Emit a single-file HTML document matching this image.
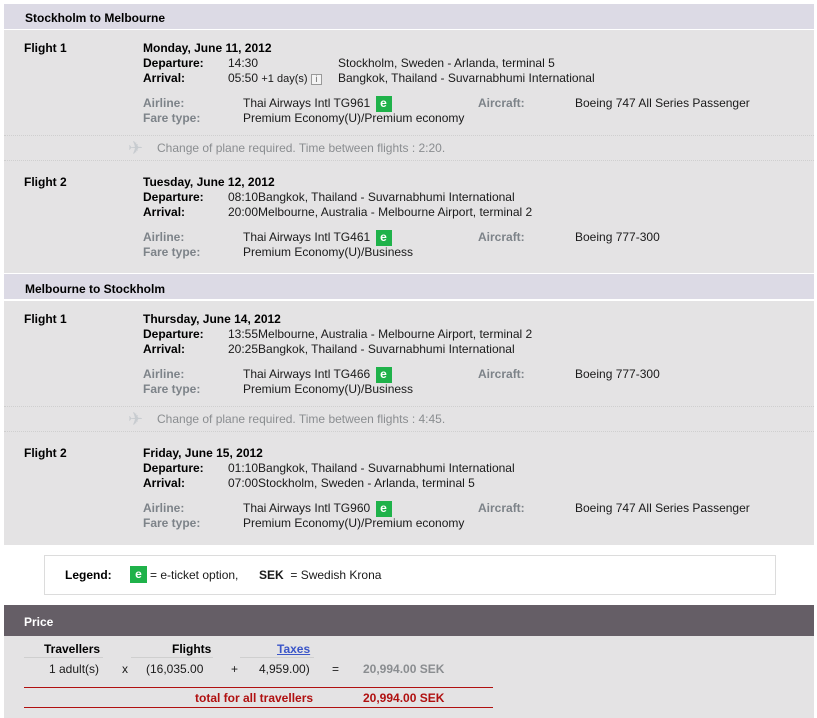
<!DOCTYPE html>
<html><head><meta charset="utf-8"><style>
*{margin:0;padding:0;box-sizing:border-box}
body{width:817px;height:718px;background:#fff;font-family:"Liberation Sans",Arial,sans-serif;font-size:12px;color:#1a1a1a;position:relative;overflow:hidden}
.a{position:absolute;white-space:nowrap;line-height:14px;margin-top:1px}
.b{font-weight:bold;color:#000}
.g{font-weight:bold;color:#7d8389}
.hd{position:absolute;left:4px;width:810px;background:#dcdae5;border-bottom:1px solid #fff}
.bd{position:absolute;left:4px;width:810px;background:#e4e3e4}
.sep{position:absolute;left:4px;width:810px;border-top:1px dotted #cfcfcf}
.e{display:inline-block;background:#1fb24a;color:#fff;font-weight:bold;width:16px;height:16px;line-height:15px;text-align:center;vertical-align:middle;margin-left:2px}
.ch{color:#8a8d90}
.pl{color:#c8ccd0;font-size:18px}
</style></head><body>
<div class="hd" style="top:4px;height:26px"></div>
<div class="a b" style="left:25px;top:10px">Stockholm to Melbourne</div>
<div class="bd" style="top:30px;height:243px"></div>
<div class="hd" style="top:274px;height:26px"></div>
<div class="a b" style="left:25px;top:281px">Melbourne to Stockholm</div>
<div class="bd" style="top:301px;height:244px"></div>

<div class="a b" style="left:24px;top:40px">Flight 1</div>
<div class="a b" style="left:143px;top:40px">Monday, June 11, 2012</div>
<div class="a b" style="left:143px;top:55px">Departure:</div>
<div class="a" style="left:228px;top:55px">14:30</div>
<div class="a" style="left:338px;top:55px">Stockholm, Sweden - Arlanda, terminal 5</div>
<div class="a b" style="left:143px;top:70px">Arrival:</div>
<div class="a" style="left:228px;top:70px">05:50 <span style="font-size:11px">+1 day(s)</span> <span style="display:inline-block;width:11px;height:11px;border:1px solid #999;font-size:9px;line-height:9px;text-align:center;color:#666;background:#f4f4f4">i</span></div>
<div class="a" style="left:338px;top:70px">Bangkok, Thailand - Suvarnabhumi International</div>
<div class="a g" style="left:143px;top:95px">Airline:</div>
<div class="a" style="left:243px;top:95px">Thai Airways Intl TG961 <span class="e">e</span></div>
<div class="a g" style="left:478px;top:95px">Aircraft:</div>
<div class="a" style="left:575px;top:95px">Boeing 747 All Series Passenger</div>
<div class="a g" style="left:143px;top:110px">Fare type:</div>
<div class="a" style="left:243px;top:110px">Premium Economy(U)/Premium economy</div>
<div class="sep" style="top:135px"></div>
<div class="a pl" style="left:128px;top:140px">✈</div>
<div class="a ch" style="left:157px;top:140px">Change of plane required. Time between flights : 2:20.</div>
<div class="sep" style="top:160px"></div>

<div class="a b" style="left:24px;top:174px">Flight 2</div>
<div class="a b" style="left:143px;top:174px">Tuesday, June 12, 2012</div>
<div class="a b" style="left:143px;top:189px">Departure:</div>
<div class="a" style="left:228px;top:189px">08:10Bangkok, Thailand - Suvarnabhumi International</div>
<div class="a b" style="left:143px;top:204px">Arrival:</div>
<div class="a" style="left:228px;top:204px">20:00Melbourne, Australia - Melbourne Airport, terminal 2</div>
<div class="a g" style="left:143px;top:229px">Airline:</div>
<div class="a" style="left:243px;top:229px">Thai Airways Intl TG461 <span class="e">e</span></div>
<div class="a g" style="left:478px;top:229px">Aircraft:</div>
<div class="a" style="left:575px;top:229px">Boeing 777-300</div>
<div class="a g" style="left:143px;top:244px">Fare type:</div>
<div class="a" style="left:243px;top:244px">Premium Economy(U)/Business</div>

<div class="a b" style="left:24px;top:311px">Flight 1</div>
<div class="a b" style="left:143px;top:311px">Thursday, June 14, 2012</div>
<div class="a b" style="left:143px;top:326px">Departure:</div>
<div class="a" style="left:228px;top:326px">13:55Melbourne, Australia - Melbourne Airport, terminal 2</div>
<div class="a b" style="left:143px;top:341px">Arrival:</div>
<div class="a" style="left:228px;top:341px">20:25Bangkok, Thailand - Suvarnabhumi International</div>
<div class="a g" style="left:143px;top:366px">Airline:</div>
<div class="a" style="left:243px;top:366px">Thai Airways Intl TG466 <span class="e">e</span></div>
<div class="a g" style="left:478px;top:366px">Aircraft:</div>
<div class="a" style="left:575px;top:366px">Boeing 777-300</div>
<div class="a g" style="left:143px;top:381px">Fare type:</div>
<div class="a" style="left:243px;top:381px">Premium Economy(U)/Business</div>
<div class="sep" style="top:406px"></div>
<div class="a pl" style="left:128px;top:411px">✈</div>
<div class="a ch" style="left:157px;top:411px">Change of plane required. Time between flights : 4:45.</div>
<div class="sep" style="top:431px"></div>

<div class="a b" style="left:24px;top:445px">Flight 2</div>
<div class="a b" style="left:143px;top:445px">Friday, June 15, 2012</div>
<div class="a b" style="left:143px;top:460px">Departure:</div>
<div class="a" style="left:228px;top:460px">01:10Bangkok, Thailand - Suvarnabhumi International</div>
<div class="a b" style="left:143px;top:475px">Arrival:</div>
<div class="a" style="left:228px;top:475px">07:00Stockholm, Sweden - Arlanda, terminal 5</div>
<div class="a g" style="left:143px;top:500px">Airline:</div>
<div class="a" style="left:243px;top:500px">Thai Airways Intl TG960 <span class="e">e</span></div>
<div class="a g" style="left:478px;top:500px">Aircraft:</div>
<div class="a" style="left:575px;top:500px">Boeing 747 All Series Passenger</div>
<div class="a g" style="left:143px;top:515px">Fare type:</div>
<div class="a" style="left:243px;top:515px">Premium Economy(U)/Premium economy</div>

<div style="position:absolute;left:44px;top:555px;width:732px;height:40px;border:1px solid #dcdcdc;background:#fff"></div>
<div class="a b" style="left:65px;top:567px">Legend:</div>
<div style="position:absolute;left:130px;top:566px;width:17px;height:17px;background:#1fb24a;color:#fff;font-weight:bold;text-align:center;line-height:16px">e</div>
<div class="a" style="left:150px;top:567px">= e-ticket option,</div>
<div class="a" style="left:259px;top:567px"><b>SEK</b>&nbsp; = Swedish Krona</div>

<div style="position:absolute;left:4px;top:605px;width:810px;height:31px;background:#655e66"></div>
<div class="a" style="left:24px;top:614px;color:#fff;font-weight:bold">Price</div>
<div class="bd" style="top:636px;height:82px"></div>
<div class="a b" style="left:44px;top:641px">Travellers</div>
<div class="a b" style="left:172px;top:641px">Flights</div>
<div class="a" style="left:277px;top:641px;color:#3a55c8;font-weight:bold;text-decoration:underline">Taxes</div>
<div style="position:absolute;left:24px;top:657px;width:79px;border-top:1px solid #cfcfcf"></div>
<div style="position:absolute;left:131px;top:657px;width:82px;border-top:1px solid #cfcfcf"></div>
<div style="position:absolute;left:240px;top:657px;width:74px;border-top:1px solid #cfcfcf"></div>
<div class="a" style="left:49px;top:661px">1 adult(s)</div>
<div class="a" style="left:122px;top:661px">x</div>
<div class="a" style="left:146px;top:661px">(16,035.00</div>
<div class="a" style="left:231px;top:661px">+</div>
<div class="a" style="left:259px;top:661px">4,959.00)</div>
<div class="a" style="left:332px;top:661px">=</div>
<div class="a" style="left:363px;top:661px;color:#8a8d90;font-weight:bold">20,994.00 SEK</div>
<div style="position:absolute;left:24px;top:687px;width:469px;border-top:1px solid #b01010"></div>
<div class="a" style="left:195px;top:690px;color:#b01010;font-weight:bold">total for all travellers</div>
<div class="a" style="left:363px;top:690px;color:#b01010;font-weight:bold">20,994.00 SEK</div>
<div style="position:absolute;left:24px;top:707px;width:469px;border-top:1px solid #b01010"></div>
</body></html>
